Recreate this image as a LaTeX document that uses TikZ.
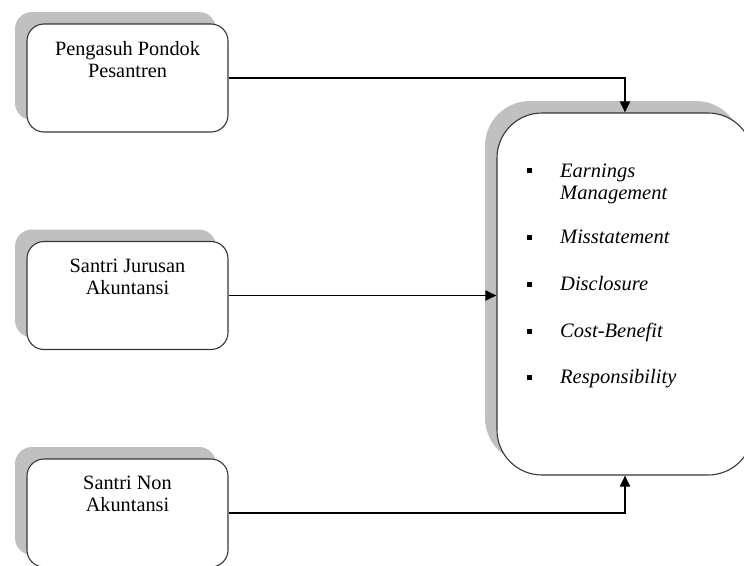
\documentclass[tikz,border=0pt]{standalone}
\usepackage{fontspec}
\setmainfont{Liberation Serif}
\usetikzlibrary{arrows.meta,shadows}
\definecolor{shadowgray}{RGB}{192,192,192}
\definecolor{edgegray}{RGB}{55,55,55}
\begin{document}
\begin{tikzpicture}[x=1pt,y=-1pt,
  shadowed/.style={general shadow={fill=shadowgray, shadow xshift=-12pt, shadow yshift=12pt}},
  srcbox/.style={shadowed, draw=edgegray, line width=1.1pt, fill=white, rounded corners=17pt,
    minimum width=201pt, minimum height=108pt, inner sep=0pt},
  bigbox/.style={shadowed, draw=edgegray, line width=1.1pt, fill=white, rounded corners=45pt,
    minimum width=256pt, minimum height=362pt, inner sep=0pt},
  lbl/.style={font=\fontsize{20.3}{22}\selectfont, align=center, inner sep=0pt},
  item/.style={font=\fontsize{20.5}{22}\selectfont\itshape, align=left, inner sep=0pt},
  bulletsq/.style={rectangle, fill=black, minimum size=5pt, inner sep=0pt},
  conn/.style={line width=1.9pt, -{Triangle[length=11pt,width=10pt]}}]
\useasboundingbox (0,0) rectangle (744,565);
\clip (0,0) rectangle (744,565);
% boxes
\node[srcbox] (b1) at (127.5,78) {};
\node[srcbox] (b2) at (127.5,295.5) {};
\node[srcbox] (b3) at (127.5,513) {};
\node[bigbox] (big) at (625,294) {};
% labels
\node[lbl, anchor=north] (t1) at ([yshift=-17.5pt]b1.north) {Pengasuh Pondok\\Pesantren};
\node[lbl, anchor=north] (t2) at ([yshift=-17.5pt]b2.north) {Santri Jurusan\\Akuntansi};
\node[lbl, anchor=north] (t3) at ([yshift=-17.5pt]b3.north) {Santri Non\\Akuntansi};
% list
\node[bulletsq] (s1) at (529,170) {};
\node[bulletsq] (s2) at (529,237) {};
\node[bulletsq] (s3) at (529,284) {};
\node[bulletsq] (s4) at (529,331) {};
\node[bulletsq] (s5) at (529,377) {};
\node[item, anchor=north west] (i1) at (560,163.5) {Earnings\\Management};
\node[item, anchor=base west] (i2) at (560,243) {Misstatement};
\node[item, anchor=base west] (i3) at (560,290) {Disclosure};
\node[item, anchor=base west] (i4) at (560,337) {Cost-Benefit};
\node[item, anchor=base west] (i5) at (560,383) {Responsibility};
% connectors
\draw[conn] (b1.east) -| (big.north);
\draw[conn] (b2.east) -- (b2.east -| big.west);
\draw[conn] (b3.east) -| (big.south);
\end{tikzpicture}
\end{document}
